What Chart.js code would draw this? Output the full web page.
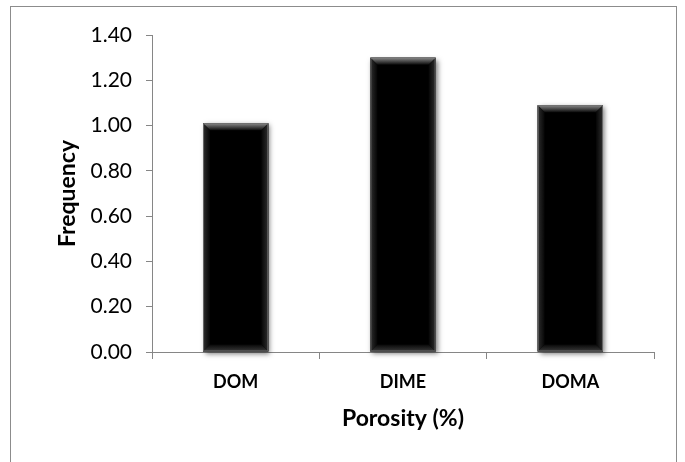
<!DOCTYPE html>
<html>
<head>
<meta charset="utf-8">
<script src="https://cdn.jsdelivr.net/npm/chart.js@4"></script>
<style>
  html, body { margin: 0; padding: 0; background: #fff; }
  #wrap { position: relative; width: 685px; height: 462px; overflow: hidden; }
  #frame { position: absolute; left: 10px; top: 6px; width: 667px; height: 470px; border: 1px solid #8c8c8c; box-sizing: border-box; }
  canvas { position: absolute; left: 0; top: 0; }
</style>
</head>
<body>
<div id="wrap">
  <div id="frame"></div>
  <canvas id="grafico" width="685" height="462"></canvas>
</div>
<script>
const categorias = ['DOM', 'DIME', 'DOMA'];
const frecuencias = [1.01, 1.30, 1.09];
const yMax = 1.4;
const yPaso = 0.2;

// dibuja el relieve de las barras (sombra y bisel)
const bisel = {
  id: 'bisel',
  beforeDatasetsDraw(chart) {
    const ctx = chart.ctx;
    chart.getDatasetMeta(0).data.forEach(bar => {
      const { x, y, base, width } = bar.getProps(['x', 'y', 'base', 'width'], true);
      ctx.save();
      ctx.shadowColor = 'rgba(0,0,0,0.5)';
      ctx.shadowBlur = 5;
      ctx.shadowOffsetX = 2;
      ctx.shadowOffsetY = 2;
      ctx.fillStyle = '#000';
      ctx.fillRect(x - width / 2, y, width, base - y);
      ctx.restore();
    });
  },
  afterDatasetsDraw(chart) {
    const ctx = chart.ctx;
    chart.getDatasetMeta(0).data.forEach(bar => {
      const { x, y, base, width } = bar.getProps(['x', 'y', 'base', 'width'], true);
      const l = x - width / 2, r = x + width / 2, b = 7;
      ctx.save();
      // arriba
      let g = ctx.createLinearGradient(0, y, 0, y + b);
      g.addColorStop(0, '#8a8a8a');
      g.addColorStop(1, '#0c0c0c');
      ctx.fillStyle = g;
      ctx.beginPath();
      ctx.moveTo(l, y); ctx.lineTo(r, y); ctx.lineTo(r - b, y + b); ctx.lineTo(l + b, y + b); ctx.closePath();
      ctx.fill();
      // izquierda
      g = ctx.createLinearGradient(l, 0, l + b, 0);
      g.addColorStop(0, '#2e2e2e');
      g.addColorStop(1, '#050505');
      ctx.fillStyle = g;
      ctx.beginPath();
      ctx.moveTo(l, y); ctx.lineTo(l + b, y + b); ctx.lineTo(l + b, base - b); ctx.lineTo(l, base); ctx.closePath();
      ctx.fill();
      // derecha
      g = ctx.createLinearGradient(r, 0, r - b, 0);
      g.addColorStop(0, '#2e2e2e');
      g.addColorStop(1, '#050505');
      ctx.fillStyle = g;
      ctx.beginPath();
      ctx.moveTo(r, y); ctx.lineTo(r - b, y + b); ctx.lineTo(r - b, base - b); ctx.lineTo(r, base); ctx.closePath();
      ctx.fill();
      // abajo
      g = ctx.createLinearGradient(0, base, 0, base - b);
      g.addColorStop(0, '#3a3a3a');
      g.addColorStop(1, '#080808');
      ctx.fillStyle = g;
      ctx.beginPath();
      ctx.moveTo(l, base); ctx.lineTo(r, base); ctx.lineTo(r - b, base - b); ctx.lineTo(l + b, base - b); ctx.closePath();
      ctx.fill();
      // borde gris
      ctx.strokeStyle = 'rgba(120,120,120,0.8)';
      ctx.lineWidth = 1;
      ctx.strokeRect(l + 0.5, y + 0.5, width - 1, base - y - 1);
      ctx.restore();
    });
  }
};

const config = {
  type: 'bar',
  data: {
    labels: categorias,
    datasets: [{
      data: frecuencias,
      backgroundColor: '#000',
      barPercentage: 0.39,
      categoryPercentage: 1
    }]
  },
  options: {
    responsive: false,
    animation: false,
    layout: { padding: { left: 45, right: 31, top: 35, bottom: 0 } },
    plugins: { legend: { display: false }, tooltip: { enabled: false } },
    scales: {
      x: {
        grid: { display: true, drawOnChartArea: false, drawTicks: true, tickLength: 7, color: '#868686', offset: true },
        border: { color: '#868686', width: 1 },
        ticks: { color: '#000', padding: 12, font: { family: 'Lato', size: 18, weight: 'bold' } },
        title: { display: true, text: 'Porosity (%)', color: '#000', padding: { top: 0, bottom: 30 }, font: { family: 'Lato', size: 23, weight: 'bold' } },
        afterFit: s => { s.height = 110; }
      },
      y: {
        min: 0,
        max: yMax,
        grid: { display: true, drawOnChartArea: false, drawTicks: true, tickLength: 6, color: '#868686' },
        border: { color: '#868686', width: 1 },
        ticks: {
          stepSize: yPaso,
          color: '#000',
          padding: 14,
          font: { family: 'Lato', size: 21 },
          callback: v => v.toFixed(2)
        },
        title: { display: true, text: 'Frequency', color: '#000', padding: { top: 9, bottom: 9 }, font: { family: 'Lato', size: 23, weight: 'bold' } },
        afterFit: s => { s.width = 107; }
      }
    }
  },
  plugins: [bisel]
};

new Chart(document.querySelector('#grafico'), config);
</script>
</body>
</html>
